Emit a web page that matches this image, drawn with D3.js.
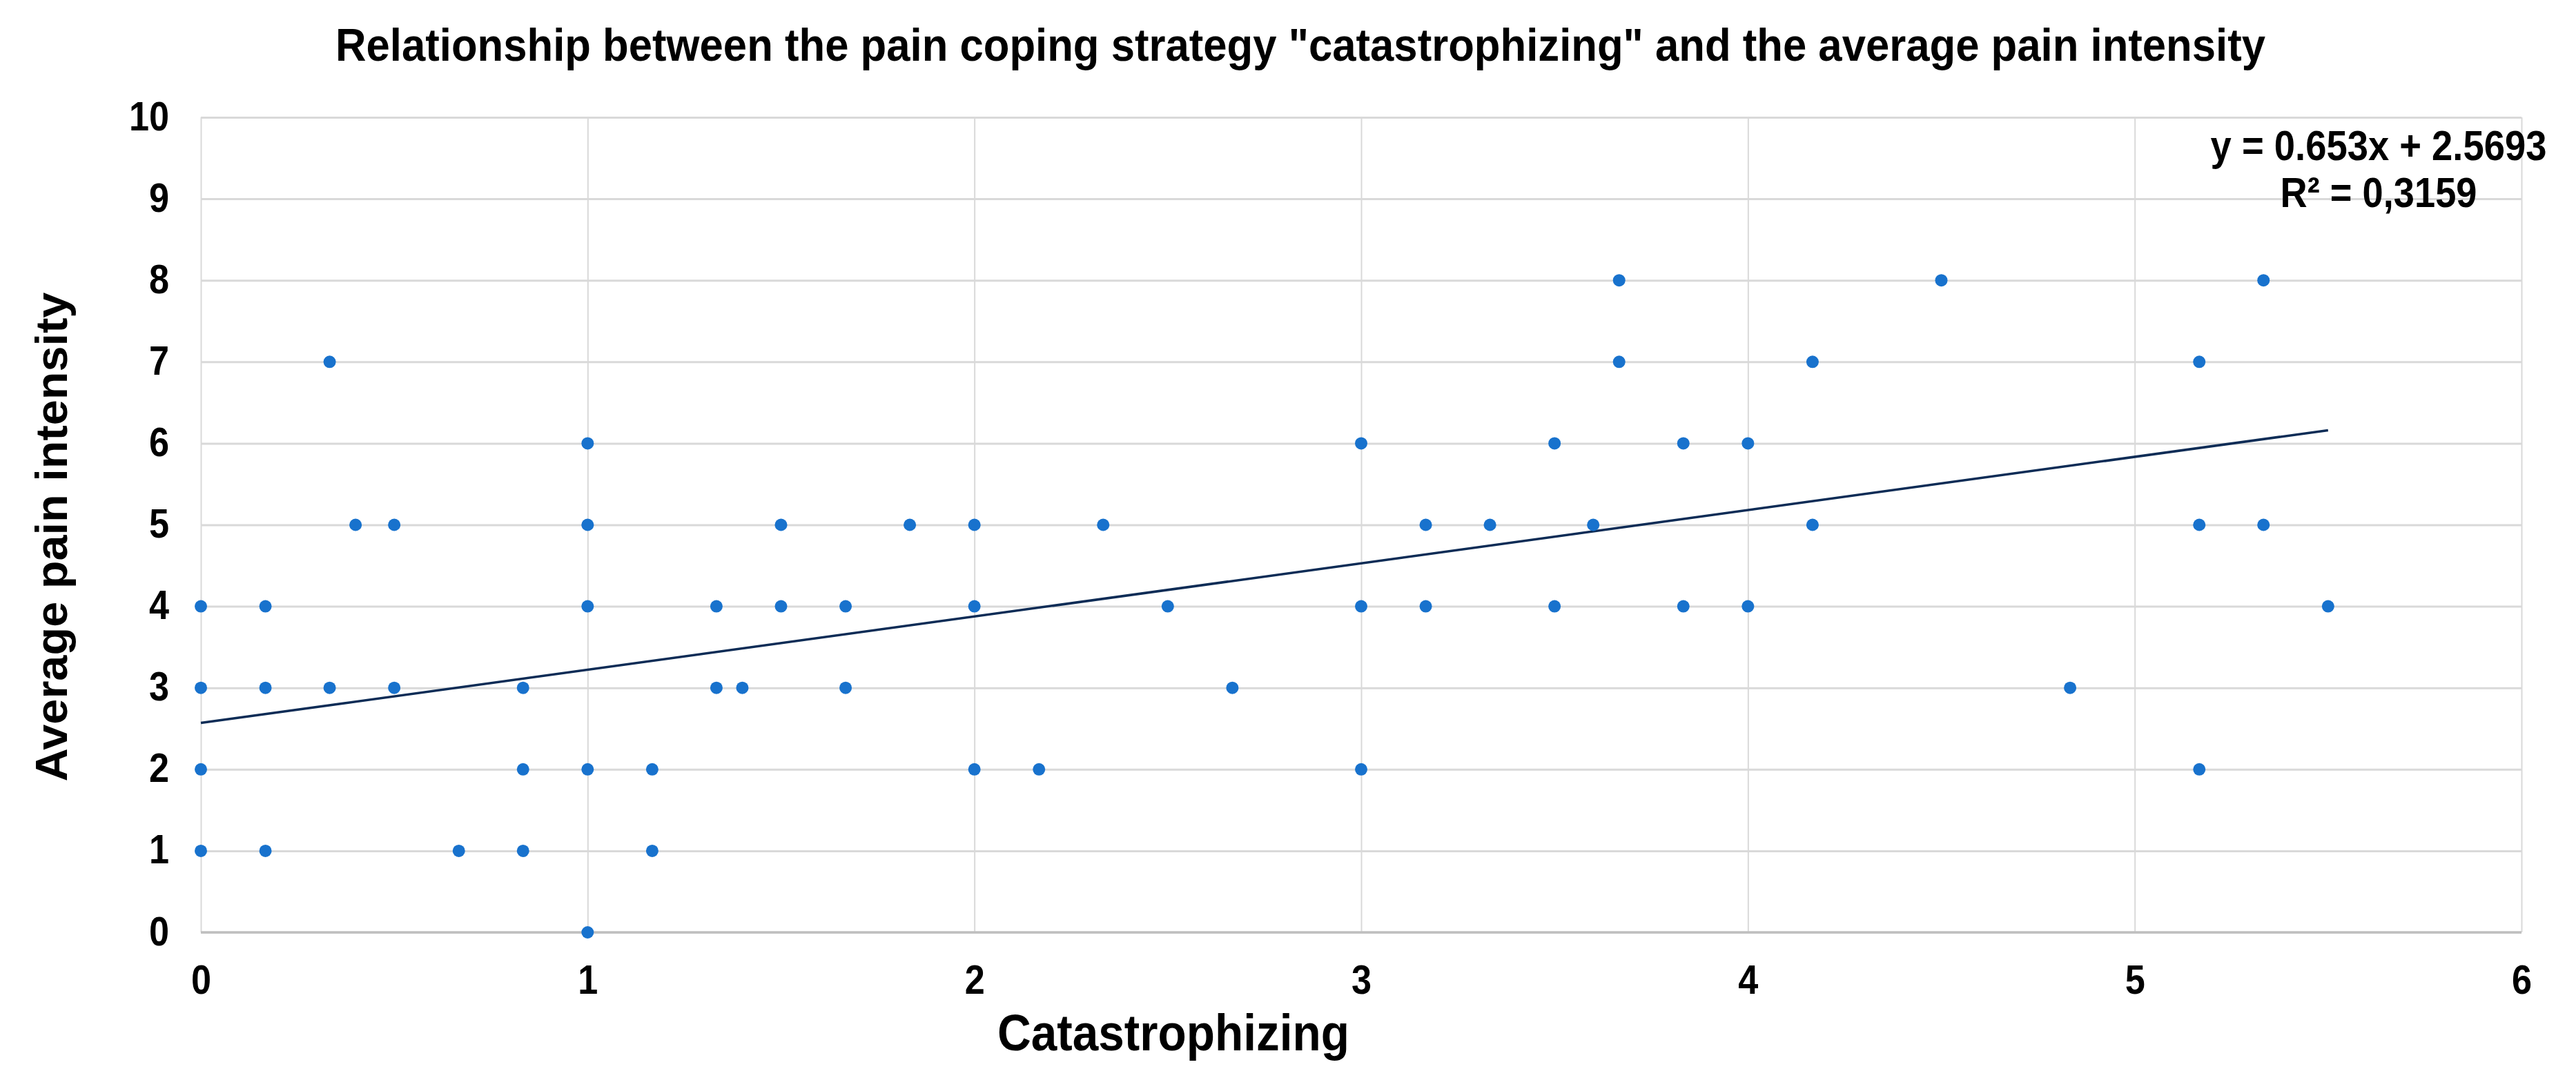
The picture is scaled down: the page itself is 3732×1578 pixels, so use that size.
<!DOCTYPE html>
<html><head><meta charset="utf-8">
<script src="https://cdn.jsdelivr.net/npm/d3@7"></script>
<style>body{margin:0;background:#fff} svg{display:block}</style>
</head><body>
<svg id="chart" width="3732" height="1578"></svg>
<script>
const titleText = 'Relationship between the pain coping strategy "catastrophizing" and the average pain intensity';
const xTitleText = "Catastrophizing";
const yTitleText = "Average pain intensity";
const xTickValues = [0, 1, 2, 3, 4, 5, 6];
const yTickValues = [0, 1, 2, 3, 4, 5, 6, 7, 8, 9, 10];
const catastrophizing = [
  1.0,
  0, 0.167, 0.667, 0.833, 1.167,
  0, 0.833, 1.0, 1.167, 2.0, 2.167, 3.0, 5.167,
  0, 0.167, 0.333, 0.5, 0.833, 1.333, 1.4, 1.667, 2.667, 4.833,
  0, 0.167, 1.0, 1.333, 1.5, 1.667, 2.0, 2.5, 3.0, 3.167, 3.5, 3.833, 4.0, 5.5,
  0.4, 0.5, 1.0, 1.5, 1.833, 2.0, 2.333, 3.167, 3.333, 3.6, 4.167, 5.167, 5.333,
  1.0, 3.0, 3.5, 3.833, 4.0,
  0.333, 3.667, 4.167, 5.167,
  3.667, 4.5, 5.333
];
const painIntensity = [
  0,
  1, 1, 1, 1, 1,
  2, 2, 2, 2, 2, 2, 2, 2,
  3, 3, 3, 3, 3, 3, 3, 3, 3, 3,
  4, 4, 4, 4, 4, 4, 4, 4, 4, 4, 4, 4, 4, 4,
  5, 5, 5, 5, 5, 5, 5, 5, 5, 5, 5, 5, 5,
  6, 6, 6, 6, 6,
  7, 7, 7, 7,
  8, 8, 8
];
const trendSlope = 0.653;
const trendIntercept = 2.5693;
const equationLines = ["y = 0.653x + 2.5693", "R\u00B2 = 0,3159"];

const svg = d3.select("#chart");
const L = 291, R = 3653, T = 170, B = 1351;
const SX = 0.87; // horizontal glyph compression
const font = "'Liberation Sans', Arial, sans-serif";

const x = d3.scaleLinear().domain([0, 6]).range([L, R]);
const y = d3.scaleLinear().domain([0, 10]).range([B, T]);

// vertical gridlines
const gx = svg.append("g").attr("transform", `translate(0,${B})`)
  .call(d3.axisBottom(x).tickValues(xTickValues).tickSize(-(B - T)).tickFormat(""));
gx.select(".domain").remove();
gx.selectAll("line").attr("stroke", "#d9d9d9").attr("stroke-width", 2);

// horizontal gridlines
const gy = svg.append("g").attr("transform", `translate(${L},0)`)
  .call(d3.axisLeft(y).tickValues(yTickValues).tickSize(-(R - L)).tickFormat(""));
gy.select(".domain").remove();
gy.selectAll("line").attr("stroke", "#d9d9d9").attr("stroke-width", 3);

// bottom axis line
svg.append("line").attr("x1", x(0)).attr("x2", x(6)).attr("y1", y(0)).attr("y2", y(0))
  .attr("stroke", "#bfbfbf").attr("stroke-width", 3.5);

// x tick labels
const xl = svg.append("g").attr("transform", `translate(0,${B})`)
  .call(d3.axisBottom(x).tickValues(xTickValues).tickSize(0).tickPadding(0).tickFormat(d3.format("d")));
xl.select(".domain").remove();
xl.selectAll("text").attr("y", 89).attr("dy", null)
  .attr("transform", `scale(${SX},1)`)
  .style("font-family", font).style("font-size", "60px").style("font-weight", "bold").attr("fill", "#000");

// y tick labels
const yl = svg.append("g").attr("transform", `translate(${L},0)`)
  .call(d3.axisLeft(y).tickValues(yTickValues).tickSize(0).tickPadding(0).tickFormat(d3.format("d")));
yl.select(".domain").remove();
yl.selectAll("text").attr("x", -46 / SX).attr("dy", null).attr("y", 18)
  .attr("transform", `scale(${SX},1)`).attr("text-anchor", "end")
  .style("font-family", font).style("font-size", "60px").style("font-weight", "bold").attr("fill", "#000");

// trend line
const xMax = d3.max(catastrophizing);
svg.append("line")
  .attr("x1", x(0)).attr("y1", y(trendIntercept))
  .attr("x2", x(xMax)).attr("y2", y(trendSlope * xMax + trendIntercept))
  .attr("stroke", "#0d2c56").attr("stroke-width", 3.5);

// points
const pts = catastrophizing.map((c, i) => ({c, p: painIntensity[i]}));
svg.append("g").selectAll("circle").data(pts).join("circle")
  .attr("cx", d => x(d.c)).attr("cy", d => y(d.p)).attr("r", 9)
  .attr("fill", "#1872cd");

// helper: text fitted to a target width by horizontal scaling
function fitText(parent, str, cx, cy, size, width, rotate) {
  const g = parent.append("g")
    .attr("transform", `translate(${cx},${cy})` + (rotate ? ` rotate(${rotate})` : ""));
  const t = g.append("text").attr("x", 0).attr("y", 0).attr("text-anchor", "middle")
    .style("font-family", font).style("font-size", size + "px").style("font-weight", "bold")
    .attr("fill", "#000").text(str);
  const w = t.node().getComputedTextLength();
  t.attr("transform", `scale(${width / w},1)`);
  return t;
}

fitText(svg, titleText, 1884, 88, 67, 2797);
fitText(svg, xTitleText, 1700, 1522, 74, 510);
fitText(svg, yTitleText, 97, 778, 65, 709, -90);
const eqW = [487, 285], eqY = [232, 300];
equationLines.forEach((s, i) => fitText(svg, s, 3446, eqY[i], 61, eqW[i]));
</script>
</body></html>
